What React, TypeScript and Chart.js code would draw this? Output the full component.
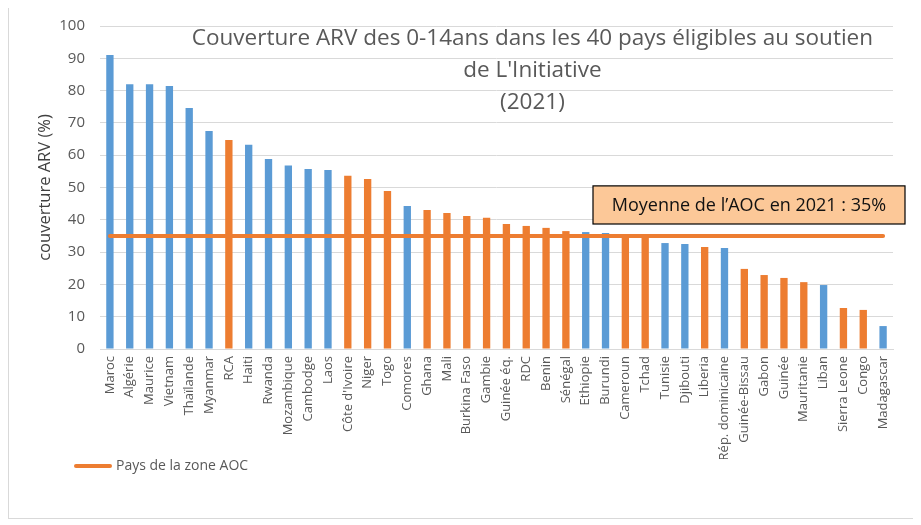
import React, { useEffect, useRef } from "react";
import { Chart, registerables } from "chart.js";

Chart.register(...registerables);

const COUNTRIES = [
  "Maroc", "Algérie", "Maurice", "Vietnam", "Thaïlande", "Myanmar", "RCA", "Haiti", "Rwanda", "Mozambique",
  "Cambodge", "Laos", "Côte d'Ivoire", "Niger", "Togo", "Comores", "Ghana", "Mali", "Burkina Faso", "Gambie",
  "Guinée éq.", "RDC", "Benin", "Sénégal", "Ethiopie", "Burundi", "Cameroun", "Tchad", "Tunisie", "Djibouti",
  "Liberia", "Rép. dominicaine", "Guinée-Bissau", "Gabon", "Guinée", "Mauritanie", "Liban", "Sierra Leone", "Congo", "Madagascar",
];

const COVERAGE = [
  91.0, 82.0, 82.0, 81.4, 74.6, 67.5, 64.7, 63.2, 58.8, 56.8,
  55.7, 55.4, 53.6, 52.6, 48.9, 44.3, 43.0, 42.1, 41.2, 40.6,
  38.7, 38.1, 37.5, 36.5, 36.2, 35.9, 35.0, 34.8, 32.8, 32.5,
  31.6, 31.3, 24.8, 22.9, 22.0, 20.7, 19.8, 12.7, 12.1, 7.1,
];

const AOC = [
  "RCA", "Côte d'Ivoire", "Niger", "Togo", "Ghana", "Mali", "Burkina Faso", "Gambie", "Guinée éq.", "RDC",
  "Benin", "Sénégal", "Cameroun", "Tchad", "Liberia", "Guinée-Bissau", "Gabon", "Guinée", "Mauritanie",
  "Sierra Leone", "Congo",
];

const AOC_AVERAGE = 35;
const Y_TICKS = [0, 10, 20, 30, 40, 50, 60, 70, 80, 90, 100];

const TITLE_LINES = [
  "Couverture ARV des 0-14ans dans les 40 pays éligibles au soutien",
  "de L'Initiative",
  "(2021)",
];
const Y_TITLE = "couverture ARV (%)";
const LEGEND_LABEL = "Pays de la zone AOC";
const NOTE = `Moyenne de l’AOC en 2021 : ${AOC_AVERAGE}%`;

const BLUE = "#5B9BD5";
const ORANGE = "#ED7D31";
const FONT = "'Open Sans', 'Noto Sans', sans-serif";

const overlayPlugin = {
  id: "overlay",
  afterDraw(chart: any) {
    const { ctx, chartArea } = chart;
    const y = chart.scales.y;
    ctx.save();
    // Title
    ctx.fillStyle = "#595959";
    ctx.font = `22.5px ${FONT}`;
    ctx.textAlign = "center";
    ctx.textBaseline = "middle";
    const cx = chart.width * 0.579;
    TITLE_LINES.forEach((line, i) => {
      ctx.fillText(line, cx, chartArea.top + 13 + i * 32);
    });
    // Note box
    const bx = chartArea.right - 300;
    const bw = chart.width - 8 - bx;
    const by = y.getPixelForValue(50.5);
    const bh = y.getPixelForValue(38.7) - by;
    ctx.fillStyle = "#FCC898";
    ctx.fillRect(bx, by, bw, bh);
    ctx.strokeStyle = "#000000";
    ctx.lineWidth = 1.2;
    ctx.strokeRect(bx, by, bw, bh);
    ctx.fillStyle = "#111111";
    ctx.font = `18px ${FONT}`;
    ctx.fillText(NOTE, bx + bw / 2, by + bh / 2 + 1);
    // Legend
    const ly = chartArea.bottom + 117;
    const lx = chartArea.left - 26;
    ctx.strokeStyle = ORANGE;
    ctx.lineWidth = 4;
    ctx.lineCap = "round";
    ctx.beginPath();
    ctx.moveTo(lx + 2, ly);
    ctx.lineTo(lx + 36, ly);
    ctx.stroke();
    ctx.fillStyle = "#595959";
    ctx.font = `14px ${FONT}`;
    ctx.textAlign = "left";
    ctx.fillText(LEGEND_LABEL, lx + 42, ly);
    ctx.restore();
  },
};

export default function App() {
  const ref = useRef<HTMLCanvasElement>(null);
  useEffect(() => {
    if (!ref.current) return;
    const chart = new Chart(ref.current, {
      type: "bar",
      data: {
        labels: COUNTRIES,
        datasets: [
          {
            type: "line",
            label: LEGEND_LABEL,
            data: COUNTRIES.map(() => AOC_AVERAGE),
            borderColor: ORANGE,
            backgroundColor: ORANGE,
            borderWidth: 4,
            borderCapStyle: "round",
            pointRadius: 0,
            order: 0,
          } as any,
          {
            type: "bar",
            label: "Couverture",
            data: COVERAGE,
            backgroundColor: COUNTRIES.map((c) => (AOC.includes(c) ? ORANGE : BLUE)),
            barPercentage: 0.37,
            categoryPercentage: 1,
            order: 1,
          },
        ],
      },
      options: {
        animation: false,
        responsive: true,
        maintainAspectRatio: false,
        layout: { padding: { left: 26, right: 20, top: 18, bottom: 59 } },
        plugins: {
          tooltip: { enabled: false },
          title: { display: false },
          legend: { display: false },
        },
        scales: {
          x: {
            grid: { display: false, drawTicks: false },
            border: { display: true, color: "#d9d9d9" },
            afterFit: (scale: any) => {
              scale.height = 110;
            },
            ticks: {
              autoSkip: false,
              minRotation: 90,
              maxRotation: 90,
              color: "#595959",
              font: { size: 13, family: FONT },
              padding: 7,
            },
          },
          y: {
            min: 0,
            max: 100,
            afterBuildTicks: (scale: any) => {
              scale.ticks = Y_TICKS.map((v) => ({ value: v }));
            },
            afterFit: (scale: any) => {
              scale.width = 65;
              scale.paddingTop = 0;
              scale.paddingBottom = 0;
            },
            grid: { color: "#d9d9d9", drawTicks: false },
            border: { display: false },
            ticks: {
              color: "#595959",
              font: { size: 15, family: FONT },
              padding: 15,
            },
            title: {
              display: true,
              text: Y_TITLE,
              color: "#404040",
              font: { size: 16.5, family: FONT },
              padding: { top: 0, bottom: 0 },
            },
          },
        },
      },
      plugins: [overlayPlugin],
    });
    return () => chart.destroy();
  }, []);
  return (
    <div
      style={{
        width: 906,
        height: 512,
        marginTop: -1,
        border: "1px solid #d9d9d9",
        boxSizing: "border-box",
        position: "relative",
      }}
    >
      <canvas ref={ref} />
    </div>
  );
}
